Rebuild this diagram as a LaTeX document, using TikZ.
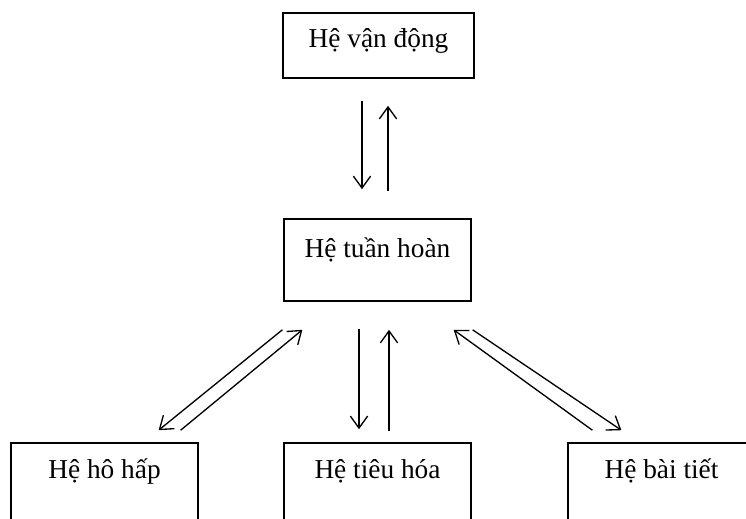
\documentclass[tikz,border=0pt]{standalone}
\usepackage{fontspec}
\setmainfont{Liberation Serif}
\usetikzlibrary{arrows.meta,calc}
\tikzstyle{arrow} = [->,>={Straight Barb[length=9pt,width=13pt]},line width=1pt]
\tikzstyle{box} = [draw,line width=1.2pt,minimum width=140pt,minimum height=61.5pt,text height=14.4pt,font=\fontsize{20.5}{24}\selectfont]

\begin{document}
\begin{tikzpicture}[x=0.75pt,y=-0.75pt]
\useasboundingbox (0,0) rectangle (746,518);
\clip (0,0) rectangle (746,518);

% Nodes
\node (vandong) [box, minimum width=143pt, minimum height=48.75pt, text depth=12.1pt] at (378.5,45.5) {Hệ vận động};
\node (tuanhoan) [box, text depth=18.8pt] at (377.5,260) {Hệ tuần hoàn};
\node (hohap) [box, text depth=23.3pt] at (104.5,484) {Hệ hô hấp};
\node (tieuhoa) [box, text depth=23.3pt] at (377.5,484) {Hệ tiêu hóa};
\node (baitiet) [box, text depth=23.3pt] at (661.5,484) {Hệ bài tiết};

% Arrows
\draw [arrow] ($(vandong.south)+(-16.5,22)$) -- ($(tuanhoan.north)+(-15.5,-29)$);
\draw [arrow] ($(tuanhoan.north)+(10.5,-27)$) -- ($(vandong.south)+(9.5,27)$);
\draw [arrow] ($(tuanhoan.south west)+(-1,28)$) -- ($(hohap.north east)+(-40,-12)$);
\draw [arrow] ($(hohap.north east)+(-18,-12)$) -- ($(tuanhoan.south west)+(19,28)$);
\draw [arrow] ($(tuanhoan.south)+(-18.5,27)$) -- ($(tieuhoa.north)+(-18.5,-13)$);
\draw [arrow] ($(tieuhoa.north)+(11.5,-11)$) -- ($(tuanhoan.south)+(11.5,28)$);
\draw [arrow] ($(baitiet.north west)+(25,-12)$) -- ($(tuanhoan.south east)+(-18,28)$);
\draw [arrow] ($(tuanhoan.south east)+(1,28)$) -- ($(baitiet.north west)+(54,-12)$);

\end{tikzpicture}
\end{document}
